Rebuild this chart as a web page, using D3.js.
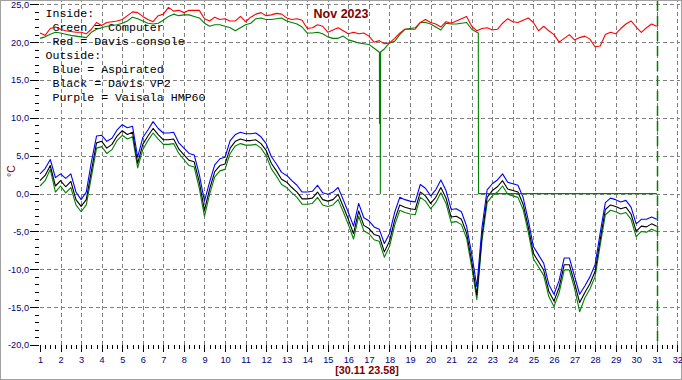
<!DOCTYPE html>
<html><head><meta charset="utf-8">
<script src="https://cdn.jsdelivr.net/npm/d3@7"></script>
<style>body{margin:0;background:#fff}svg{display:block}</style>
</head><body><svg id="c" width="682" height="380"></svg>
<script>
// ---------- data ----------
const dayTicks = d3.range(1, 33);            // x tick labels 1..32
const tempTicks = d3.range(-20, 26, 5);      // y tick labels
const title = "Nov 2023";
const stamp = "[30.11 23.58]";
const unitLabel = "°C";
const legendLines = ["Inside:", " Green = Computer", " Red = Davis console", "Outside:",
  " Blue = Aspirated", " Black = Davis VP2", " Purple = Vaisala HMP60"];
const startDay = 1, stepDays = 0.25;         // samples every 6 hours, Nov 1 00:00 .. Dec 1 00:00

const blueOut = [2.6,3.3,4.5,2.1, 2.6,2.0,2.6,0.2, -0.8,0.2,4.2,7.6, 7.7,6.9,7.3,8.4, 9.1,8.7,8.9,4.8,
  7.4,8.4,9.5,8.6, 8.0,8.0,8.1,6.7, 6.0,5.3,5.1,2.5, -1.0,1.5,3.8,4.6, 4.8,7.0,7.8,8.1,
  7.9,7.9,8.0,7.5, 6.6,4.9,3.9,2.8, 2.4,1.7,1.1,0.2, 0.2,0.3,1.1,0.1, -0.1,0.2,0.8,-0.8,
  -2.5,-4.3,-1.3,-3.2, -3.6,-4.4,-4.7,-6.6, -5.3,-2.5,-0.5,-0.8, -1.0,-1.1,1.2,0.7, -0.3,0.5,1.8,0.4,
  -2.1,-2.0,-2.4,-4.3, -8.0,-12.3,-4.5,0.5, 1.3,1.8,2.6,1.5, 1.3,1.1,-0.5,-3.5, -7.0,-8.1,-9.2,-12.0,
  -13.3,-11.5,-8.5,-8.5, -10.9,-13.3,-12.2,-11.0, -9.4,-5.2,-1.2,-0.6, -0.8,-1.1,-0.9,-1.8, -4.0,-3.4,-3.4,-3.1, -3.4];

const blackOut = [1.7,2.4,3.7,1.0, 1.7,0.9,1.6,-0.8, -1.7,-0.8,3.0,6.7, 6.9,6.0,6.5,7.6, 8.3,7.8,8.1,4.0,
  6.5,7.6,8.6,7.8, 7.1,7.1,7.2,5.9, 5.1,4.4,4.2,1.5, -2.2,0.6,2.9,3.7, 3.9,6.0,6.9,7.2,
  7.0,7.0,7.1,6.6, 5.7,4.0,3.0,1.9, 1.5,0.8,0.2,-0.7, -0.7,-0.6,0.2,-0.8, -1.0,-0.8,-0.1,-1.7,
  -3.4,-5.3,-2.3,-4.2, -4.6,-5.4,-5.6,-7.7, -6.3,-3.5,-1.5,-1.8, -2.0,-2.1,0.2,-0.3, -1.3,-0.5,0.8,-0.6,
  -3.1,-3.0,-3.4,-5.2, -9.0,-13.4,-5.5,-0.5, 0.4,0.9,1.7,0.6, 0.4,0.2,-1.4,-4.4, -7.9,-9.0,-10.1,-12.9,
  -14.2,-12.4,-9.4,-9.4, -11.8,-14.4,-13.1,-11.9, -10.3,-6.1,-2.1,-1.5, -1.7,-2.0,-1.8,-2.7, -5.0,-4.3,-4.4,-4.0, -4.3];

const greenOut = [1.0,1.7,3.2,0.2, 1.0,0.1,0.8,-1.5, -2.4,-1.5,2.2,6.0, 6.2,5.3,5.8,7.0, 7.7,7.2,7.5,3.4,
  5.8,7.0,8.0,7.2, 6.5,6.5,6.6,5.3, 4.5,3.7,3.5,0.7, -3.0,-0.1,2.2,3.0, 3.2,5.3,6.3,6.6,
  6.4,6.4,6.5,6.0, 5.0,3.3,2.3,1.2, 0.8,0.1,-0.5,-1.4, -1.4,-1.3,-0.5,-1.5, -1.7,-1.5,-0.8,-2.4,
  -4.1,-6.0,-3.0,-4.9, -5.3,-6.1,-6.3,-8.4, -7.0,-4.2,-2.2,-2.5, -2.7,-2.8,-0.5,-1.0, -2.0,-1.2,0.1,-1.3,
  -3.8,-3.7,-4.1,-5.9, -9.7,-14.0,-6.2,-1.2, -0.3,0.2,1.0,-0.1, -0.3,-0.5,-2.1,-5.1, -8.6,-9.7,-10.8,-13.6,
  -14.9,-13.1,-10.1,-10.1, -12.5,-15.6,-13.8,-12.6, -11.0,-6.8,-2.8,-2.2, -2.4,-2.7,-2.5,-3.4, -5.7,-5.0,-5.1,-4.7, -5.0];

const redIn = [21.2,20.9,21.8,22.0, 21.7,21.5,21.4,21.3, 21.3,21.1,21.7,22.6, 22.2,22.6,22.7,22.8,
  23.0,23.5,24.0,23.9, 23.4,23.0,22.7,23.5, 23.7,24.6,24.1,24.2, 23.9,24.2,24.2,24.2,
  23.1,22.8,23.3,23.0, 23.1,22.8,22.8,23.4, 22.7,23.3,23.7,23.9, 23.5,23.6,23.8,23.7,
  23.2,23.0,23.1,22.9, 21.8,21.9,22.3,22.1, 21.3,21.6,21.9,21.5, 21.1,21.3,21.1,21.2,
  20.8,20.0,20.2,19.8, 19.9,20.5,21.2,21.7, 21.7,21.7,22.6,23.0, 22.6,22.4,22.0,22.7,
  22.5,22.8,23.1,23.4, 22.1,21.5,21.8,21.9, 21.6,21.7,22.5,23.1, 22.7,22.6,22.9,23.2,
  22.6,21.5,22.1,21.5, 21.0,20.0,20.5,21.0, 20.3,20.6,20.8,20.4, 19.4,19.5,21.0,21.3,
  21.1,21.8,22.4,22.8, 22.0,21.3,21.9,22.4, 22.1];

// Computer sensor: logger writes 0 when the reading is missing (after 22.33)
const greenIn = [20.5,20.7,21.05,21.3, 21.2,21.05,20.9,20.8, 20.7,20.6,21.3,21.7, 21.9,22.1,22.2,22.3,
  22.5,22.8,23.3,23.1, 22.8,22.5,22.4,22.5, 22.9,23.4,23.7,23.5, 23.6,23.6,23.4,23.2,
  22.5,22.1,22.3,22.3, 22.1,21.9,21.5,21.9, 22.3,22.5,23.1,23.2, 23.0,23.0,23.1,23.2,
  22.8,22.6,22.4,22.0, 21.2,21.2,21.3,21.1, 20.7,20.5,20.5,20.8, 20.3,20.1,19.9,19.8,
  19.7,19.2,18.7,19.1, 19.9,20.1,21.0,21.7, 21.8,21.9,22.6,22.6, 22.4,22.0,21.6,22.5,
  22.4,22.4,22.5,22.6, 21.7,21.3,0,0, 0,0,0,0, 0,0,0,0,
  0,0,0,0, 0,0,0,0, 0,0,0,0, 0,0,0,0,
  0,0,0,0, 0,0,0,0, 0];
// short glitches in the Computer sensor (day, °C)
const greenInEventDays  = [17.51, 17.515, 17.55, 17.555, 17.565, 22.32, 22.33];
const greenInEventTemps = [18.7,  9.3,    9.3,   0,      18.7,   21.2,  0];
const markerDay = 31;   // current-time marker

// ---------- drawing ----------
const svg = d3.select("#c");
const x = d3.scaleLinear().domain([1, 32]).range([40, 677.3]);
const y = d3.scaleLinear().domain([-20, 25]).range([345, 4.3]);
const series = arr => arr.map((v, i) => [startDay + i * stepDays, v]);
const line = d3.line().x(d => x(d[0])).y(d => y(d[1]));

svg.append("rect").attr("x", 0.5).attr("y", 0.5).attr("width", 681).attr("height", 379)
  .attr("fill", "#fff").attr("stroke", "#a0a0a0");

// grid
const grid = svg.append("g").attr("stroke", "#808080").attr("stroke-dasharray", "4,3")
  .attr("shape-rendering", "crispEdges");
grid.selectAll(".v").data(dayTicks.filter(d => d > 1)).join("line")
  .attr("x1", d => Math.round(x(d)) + 0.5).attr("x2", d => Math.round(x(d)) + 0.5)
  .attr("y1", y(-20)).attr("y2", 1);
grid.selectAll(".h").data(tempTicks.filter(d => d > -20)).join("line")
  .attr("x1", x(1)).attr("x2", 680)
  .attr("y1", d => Math.round(y(d)) + 0.5).attr("y2", d => Math.round(y(d)) + 0.5);

// legend text
svg.append("g").selectAll("text").data(legendLines).join("text")
  .attr("x", 45.5).attr("y", (d, i) => 17 + i * 14)
  .attr("xml:space", "preserve").style("white-space", "pre")
  .attr("font-family", "'Liberation Mono','Courier New',monospace").attr("font-size", 11.6)
  .attr("fill", "#000").text(d => d);

// marker line
svg.append("line").attr("x1", Math.round(x(markerDay)) + 0.5).attr("x2", Math.round(x(markerDay)) + 0.5)
  .attr("y1", 1).attr("y2", y(-20)).attr("stroke", "#008000").attr("stroke-width", 1.5)
  .attr("stroke-dasharray", "10,5");

const plotLine = (data, color) => svg.append("path").datum(data).attr("d", line)
  .attr("fill", "none").attr("stroke", color).attr("stroke-width", 1.1)
  .attr("stroke-linejoin", "round");

plotLine(series(greenOut), "#008000");
plotLine(series(blackOut), "#000000");
plotLine(series(blueOut), "#0000ff");
const gIn = series(greenIn).concat(greenInEventDays.map((d, i) => [d, greenInEventTemps[i]]))
  .sort((a, b) => a[0] - b[0]);
plotLine(gIn, "#008000");
plotLine(series(redIn), "#ff0000");

// axes
const navy = "#000080";
const xAxis = svg.append("g").attr("transform", `translate(0,${y(-20)})`)
  .call(d3.axisBottom(x).tickValues(dayTicks).tickSize(7).tickPadding(4).tickFormat(d3.format("d")));
const xMinor = svg.append("g").attr("transform", `translate(0,${y(-20)})`)
  .call(d3.axisBottom(x).tickValues(d3.range(1, 32, 0.25).filter(d => d % 1 !== 0)).tickSize(4).tickFormat(""));
const yAxis = svg.append("g").attr("transform", "translate(39,0)")
  .call(d3.axisLeft(y).tickValues(tempTicks).tickSize(9).tickPadding(1)
    .tickFormat(d => d.toFixed(1).replace(".", ",")));
const yMinor = svg.append("g").attr("transform", "translate(39,0)")
  .call(d3.axisLeft(y).tickValues(d3.range(-20, 26).filter(d => d % 5 !== 0)).tickSize(4).tickFormat(""));
[xAxis, xMinor, yAxis, yMinor].forEach(g => {
  g.select(".domain").remove();
  g.selectAll("line").attr("stroke", "#000").attr("shape-rendering", "crispEdges");
  g.selectAll("text").attr("fill", navy).attr("font-family", "'Liberation Sans',Arial,sans-serif")
    .attr("font-size", 9.2);
});

svg.append("text").attr("x", 341).attr("y", 18).attr("text-anchor", "middle")
  .attr("font-family", "'Liberation Sans',Arial,sans-serif").attr("font-weight", "bold")
  .attr("font-size", 12.5).attr("fill", "#800000").text(title);
svg.append("text").attr("x", 367).attr("y", 374).attr("text-anchor", "middle")
  .attr("font-family", "'Liberation Sans',Arial,sans-serif").attr("font-weight", "bold")
  .attr("font-size", 10.8).attr("fill", "#800000").text(stamp);
svg.append("text").attr("transform", "translate(15,171) rotate(-90)").attr("text-anchor", "middle")
  .attr("font-family", "'Liberation Sans',Arial,sans-serif").attr("font-size", 10.5)
  .attr("fill", "#800000").text(unitLabel);
</script></body></html>
